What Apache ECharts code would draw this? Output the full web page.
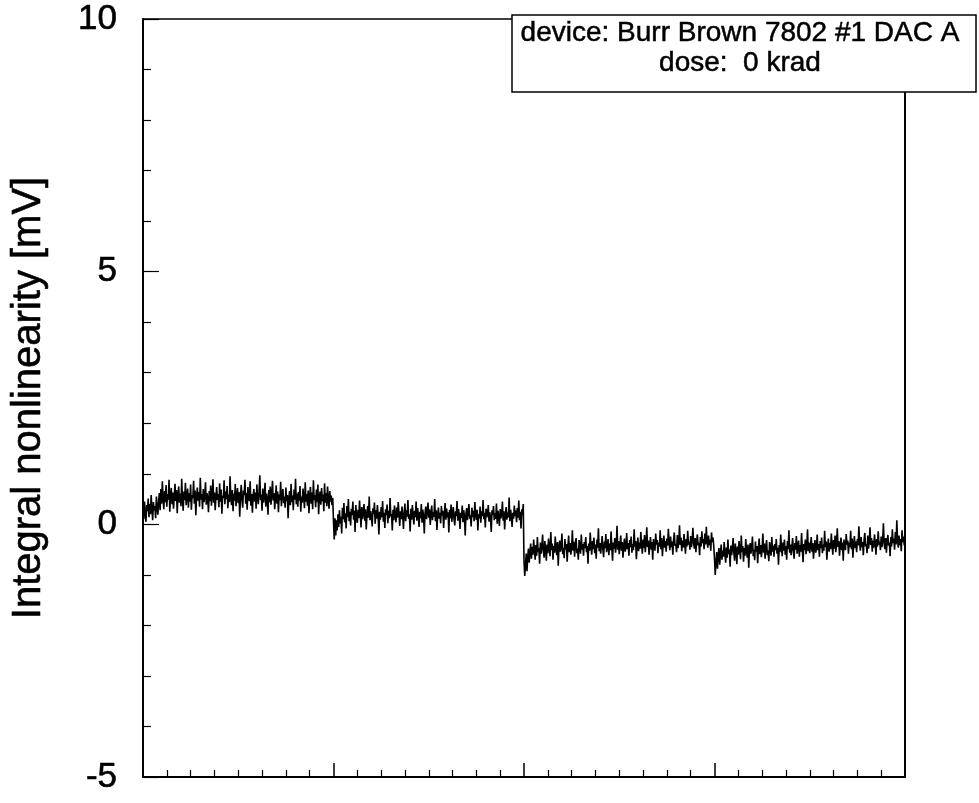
<!DOCTYPE html>
<html>
<head>
<meta charset="utf-8">
<script src="https://cdn.jsdelivr.net/npm/echarts@6/dist/echarts.min.js"></script>
<style>html,body{margin:0;padding:0;background:#fff;}#c{width:979px;height:803px;}</style>
</head>
<body>
<div id="c"></div>
<script>
// DAC input code step between plotted samples
const codeStep = 4;
const xMin = 0, xMax = 4096, xMajor = 1024;
const yMin = -5, yMax = 10, yMajor = 5;
const yTitle = 'Integral nonlinearity [mV]';
const boxLine1 = 'device: Burr Brown 7802 #1 DAC A';
const boxLine2 = 'dose:  0 krad';

// Integral nonlinearity [mV], codes 0 .. 1023
const seg1 = [
0.32,0.10,0.45,0.22,0.05,0.38,0.26,0.51,0.14,0.40,0.20,0.58,0.30,0.08,0.44,0.27,
0.36,0.12,0.55,0.33,0.19,0.47,0.62,0.28,0.70,0.41,0.85,0.52,0.30,0.66,0.44,0.78,
0.35,0.60,0.49,0.88,0.25,0.57,0.72,0.40,0.63,0.31,0.54,0.80,0.46,0.68,0.22,0.59,
0.75,0.43,0.61,0.36,0.90,0.50,0.27,0.65,0.48,0.82,0.38,0.56,0.71,0.33,0.62,0.45,
0.79,0.29,0.58,0.52,0.86,0.41,0.67,0.18,0.55,0.73,0.47,0.64,0.35,0.92,0.49,0.60,
0.30,0.70,0.44,0.57,0.83,0.39,0.62,0.51,0.24,0.66,0.46,0.77,0.37,0.58,0.89,0.43,
0.63,0.28,0.54,0.74,0.48,0.60,0.34,0.81,0.45,0.69,0.21,0.57,0.52,0.87,0.40,0.65,
0.50,0.76,0.32,0.59,0.44,0.95,0.53,0.38,0.68,0.26,0.61,0.47,0.80,0.36,0.56,0.72,
0.42,0.64,0.15,0.55,0.78,0.49,0.33,0.67,0.58,0.88,0.41,0.62,0.29,0.74,0.51,0.46,
0.85,0.37,0.60,0.23,0.57,0.70,0.45,0.63,0.31,0.79,0.52,0.40,0.66,0.97,0.48,0.59,
0.27,0.71,0.43,0.56,0.82,0.35,0.61,0.50,0.19,0.68,0.44,0.75,0.39,0.58,0.86,0.47,
0.62,0.30,0.53,0.77,0.41,0.65,0.24,0.59,0.48,0.84,0.36,0.60,0.70,0.42,0.55,0.33,
0.73,0.46,0.58,0.12,0.51,0.66,0.38,0.80,0.44,0.57,0.28,0.69,0.49,0.90,0.40,0.61,
0.35,0.64,0.47,0.76,0.25,0.55,0.43,0.71,0.52,0.32,0.83,0.45,0.60,0.37,0.67,0.22,
0.56,0.74,0.41,0.63,0.30,0.87,0.48,0.58,0.34,0.69,0.44,0.79,0.20,0.54,0.65,0.39,
0.72,0.46,0.59,0.26,0.81,0.43,0.62,0.36,0.75,0.50,0.31,0.66,0.45,0.57,0.38,0.52];
// codes 1024 .. 2047
const seg2 = [
0.05,-0.30,0.12,-0.22,0.08,-0.12,0.20,-0.05,0.28,0.02,0.15,-0.18,0.33,0.10,0.42,0.04,
0.22,-0.08,0.36,0.14,0.50,0.06,0.25,-0.02,0.31,0.18,0.45,0.09,0.27,-0.15,0.38,0.16,
0.03,0.29,0.12,0.47,0.21,-0.06,0.34,0.10,0.24,0.40,0.07,0.30,-0.10,0.19,0.36,0.13,
0.55,0.08,0.26,0.15,-0.04,0.32,0.20,0.43,0.01,0.28,0.11,0.38,0.17,-0.20,0.25,0.09,
0.34,0.14,0.46,0.05,0.23,-0.07,0.30,0.18,0.39,0.02,0.27,0.12,0.52,0.16,0.21,-0.12,
0.29,0.08,0.37,0.19,0.04,0.33,0.13,0.44,0.22,-0.03,0.26,0.10,0.35,0.17,-0.09,0.24,
0.41,0.06,0.28,0.15,0.48,0.11,0.20,-0.14,0.31,0.09,0.38,0.18,0.00,0.27,0.14,0.45,
0.07,0.32,0.19,-0.05,0.25,0.12,0.40,0.03,0.29,0.16,-0.18,0.22,0.35,0.10,0.26,0.43,
0.13,0.30,-0.01,0.21,0.37,0.08,0.24,0.15,0.50,0.06,0.28,-0.11,0.19,0.33,0.11,0.23,
0.02,0.36,0.17,0.27,-0.07,0.20,0.42,0.09,0.31,0.14,0.24,-0.16,0.29,0.12,0.39,0.05,
0.22,0.34,0.10,-0.02,0.26,0.16,0.46,0.07,0.30,0.19,-0.09,0.23,0.13,0.37,0.04,0.28,
0.15,-0.22,0.21,0.32,0.08,0.25,0.40,0.11,0.18,-0.04,0.33,0.14,0.27,0.06,0.44,0.17,
0.09,0.29,-0.12,0.20,0.12,0.35,0.03,0.26,0.16,0.48,0.10,0.23,-0.06,0.31,0.14,0.21,
0.38,0.05,0.24,0.13,-0.15,0.28,0.18,0.36,0.08,0.22,0.11,0.41,0.01,0.27,0.15,-0.03,
0.30,0.12,0.20,0.45,0.07,0.26,-0.10,0.19,0.34,0.09,0.24,0.14,0.53,0.06,0.29,0.17,
-0.05,0.23,0.11,0.37,0.16,0.28,0.04,0.32,0.13,0.47,0.08,0.25,-0.08,0.30,0.18,0.40];
// codes 2048 .. 3071
const seg3 = [
-0.72,-1.02,-0.80,-0.58,-0.93,-0.65,-0.48,-0.76,-0.55,-0.38,-0.68,-0.45,-0.60,-0.30,-0.52,-0.70,
-0.41,-0.62,-0.25,-0.55,-0.47,-0.78,-0.36,-0.58,-0.44,-0.20,-0.53,-0.66,-0.33,-0.49,-0.72,-0.40,
-0.57,-0.28,-0.46,-0.63,-0.15,-0.51,-0.38,-0.70,-0.43,-0.56,-0.24,-0.48,-0.61,-0.35,-0.82,-0.45,
-0.32,-0.54,-0.42,-0.18,-0.59,-0.47,-0.67,-0.29,-0.50,-0.39,-0.74,-0.44,-0.22,-0.55,-0.37,-0.60,
-0.46,-0.12,-0.52,-0.34,-0.64,-0.41,-0.27,-0.57,-0.48,-0.70,-0.31,-0.45,-0.58,-0.20,-0.50,-0.39,
-0.62,-0.35,-0.47,-0.25,-0.55,-0.43,-0.78,-0.38,-0.52,-0.16,-0.44,-0.60,-0.33,-0.49,-0.26,-0.57,
-0.40,-0.68,-0.30,-0.46,-0.08,-0.53,-0.37,-0.58,-0.42,-0.23,-0.50,-0.65,-0.34,-0.47,-0.19,-0.55,
-0.44,-0.29,-0.61,-0.38,-0.51,-0.14,-0.45,-0.72,-0.36,-0.48,-0.27,-0.56,-0.41,-0.03,-0.50,-0.33,
-0.59,-0.40,-0.22,-0.52,-0.35,-0.66,-0.43,-0.28,-0.54,-0.46,-0.17,-0.49,-0.37,-0.62,-0.31,-0.45,
-0.24,-0.56,-0.39,-0.51,-0.10,-0.44,-0.33,-0.69,-0.42,-0.26,-0.53,-0.36,-0.48,-0.15,-0.40,-0.58,
-0.30,-0.47,-0.21,-0.55,-0.38,-0.06,-0.45,-0.32,-0.60,-0.41,-0.25,-0.50,-0.35,-0.70,-0.29,-0.43,
-0.52,-0.18,-0.40,-0.31,-0.57,-0.36,-0.44,-0.12,-0.49,-0.27,-0.63,-0.38,-0.22,-0.46,-0.33,-0.54,
-0.28,-0.42,-0.09,-0.37,-0.51,-0.24,-0.45,-0.34,-0.60,-0.30,-0.16,-0.43,-0.39,-0.55,-0.21,-0.47,
-0.35,-0.02,-0.41,-0.26,-0.53,-0.32,-0.46,-0.19,-0.38,-0.58,-0.29,-0.44,-0.13,-0.40,-0.34,-0.50,
-0.23,-0.45,-0.31,-0.07,-0.39,-0.48,-0.27,-0.55,-0.33,-0.20,-0.42,-0.36,-0.61,-0.25,-0.44,-0.14,
-0.37,-0.29,-0.49,-0.18,-0.40,-0.05,-0.34,-0.46,-0.22,-0.41,-0.30,-0.52,-0.16,-0.35,-0.26,-0.43];
// codes 3072 .. 4095
const seg4 = [
-0.68,-1.00,-0.75,-0.55,-0.88,-0.62,-0.47,-0.80,-0.58,-0.40,-0.70,-0.52,-0.64,-0.35,-0.57,-0.76,
-0.46,-0.66,-0.30,-0.59,-0.50,-0.84,-0.42,-0.61,-0.48,-0.27,-0.56,-0.72,-0.38,-0.53,-0.79,-0.44,
-0.60,-0.33,-0.51,-0.69,-0.22,-0.55,-0.43,-0.74,-0.47,-0.62,-0.29,-0.52,-0.66,-0.40,-0.86,-0.49,
-0.37,-0.58,-0.45,-0.24,-0.63,-0.50,-0.71,-0.34,-0.54,-0.43,-0.77,-0.48,-0.28,-0.59,-0.41,-0.65,
-0.49,-0.18,-0.56,-0.38,-0.68,-0.45,-0.31,-0.61,-0.52,-0.73,-0.35,-0.48,-0.62,-0.25,-0.54,-0.42,
-0.64,-0.39,-0.51,-0.29,-0.58,-0.46,-0.80,-0.41,-0.55,-0.20,-0.47,-0.63,-0.36,-0.52,-0.30,-0.60,
-0.43,-0.70,-0.33,-0.49,-0.12,-0.56,-0.40,-0.61,-0.45,-0.27,-0.53,-0.68,-0.37,-0.50,-0.23,-0.58,
-0.46,-0.32,-0.64,-0.41,-0.54,-0.17,-0.48,-0.75,-0.39,-0.51,-0.30,-0.59,-0.44,-0.10,-0.53,-0.36,
-0.57,-0.42,-0.25,-0.54,-0.37,-0.68,-0.45,-0.31,-0.56,-0.48,-0.20,-0.51,-0.39,-0.64,-0.33,-0.47,
-0.26,-0.57,-0.40,-0.52,-0.13,-0.45,-0.34,-0.70,-0.43,-0.28,-0.54,-0.37,-0.49,-0.18,-0.41,-0.60,
-0.31,-0.48,-0.22,-0.55,-0.39,-0.08,-0.45,-0.33,-0.62,-0.41,-0.26,-0.51,-0.36,-0.72,-0.30,-0.44,
-0.51,-0.19,-0.40,-0.32,-0.58,-0.36,-0.45,-0.13,-0.49,-0.28,-0.66,-0.38,-0.23,-0.47,-0.34,-0.55,
-0.29,-0.42,-0.04,-0.37,-0.52,-0.25,-0.45,-0.35,-0.61,-0.31,-0.17,-0.44,-0.39,-0.57,-0.22,-0.48,
-0.35,-0.06,-0.41,-0.27,-0.54,-0.32,-0.46,-0.20,-0.38,-0.60,-0.29,-0.44,-0.14,-0.40,-0.34,-0.51,
-0.24,-0.45,-0.31,0.02,-0.39,-0.49,-0.27,-0.56,-0.33,-0.21,-0.42,-0.36,-0.63,-0.25,-0.44,-0.10,
-0.37,-0.28,-0.50,-0.15,-0.40,0.08,-0.33,-0.46,-0.22,-0.41,-0.29,-0.53,-0.12,-0.35,-0.24,-0.42];

const inl = seg1.concat(seg2, seg3, seg4);
const seriesData = inl.map((v, i) => [i * codeStep, v]);

const FONT = '"Liberation Sans", Arial, sans-serif';
const chart = echarts.init(document.getElementById('c'), null, {renderer: 'canvas'});
const axisBlack = {color: '#000', width: 2};
chart.setOption({
  animation: false,
  backgroundColor: '#fff',
  grid: {left: 143, right: 74, top: 19, bottom: 26, containLabel: false},
  xAxis: [{
    type: 'value', min: xMin, max: xMax, interval: xMajor, position: 'bottom',
    axisLine: {show: true, onZero: false, lineStyle: axisBlack},
    axisTick: {show: true, inside: true, length: 14, lineStyle: {color: '#000', width: 1.5}},
    minorTick: {show: true, splitNumber: 8, length: 7, lineStyle: {color: '#000', width: 1.2}},
    axisLabel: {show: false},
    splitLine: {show: false}, minorSplitLine: {show: false}
  }, {
    type: 'value', min: xMin, max: xMax, interval: xMajor, position: 'top',
    axisLine: {show: true, onZero: false, lineStyle: {color: '#000', width: 1.5}},
    axisTick: {show: false}, axisLabel: {show: false}, splitLine: {show: false}
  }],
  yAxis: [{
    type: 'value', min: yMin, max: yMax, interval: yMajor, position: 'left',
    name: yTitle, nameLocation: 'middle', nameGap: 94,
    nameTextStyle: {fontFamily: FONT, fontSize: 40, color: '#000', textBorderColor: '#000', textBorderWidth: 0.6},
    axisLine: {show: true, onZero: false, lineStyle: axisBlack},
    axisTick: {show: true, inside: true, length: 16, lineStyle: {color: '#000', width: 1.2}},
    minorTick: {show: true, splitNumber: 5, length: 8, lineStyle: {color: '#000', width: 1.2}},
    axisLabel: {show: true, fontFamily: FONT, fontSize: 35, color: '#000', margin: 26, textBorderColor: '#000', textBorderWidth: 0.6},
    splitLine: {show: false}, minorSplitLine: {show: false}
  }, {
    type: 'value', min: yMin, max: yMax, interval: yMajor, position: 'right',
    axisLine: {show: true, onZero: false, lineStyle: {color: '#000', width: 2}},
    axisTick: {show: false}, axisLabel: {show: false}, splitLine: {show: false}
  }],
  series: [{
    type: 'line', xAxisIndex: 0, yAxisIndex: 0,
    data: seriesData, showSymbol: false, symbol: 'none',
    lineStyle: {color: '#000', width: 1.6}, sampling: null, z: 3
  }],
  graphic: [{
    type: 'group', z: 100,
    children: [{
      type: 'rect', z: 100,
      shape: {x: 512, y: 15, width: 464, height: 77},
      style: {fill: '#fff', stroke: '#000', lineWidth: 1.5}
    }, {
      type: 'text', z: 101, x: 740, y: 33,
      style: {text: boxLine1, font: '28px ' + FONT, fill: '#000', stroke: '#000', lineWidth: 0.5, textAlign: 'center', textVerticalAlign: 'middle'}
    }, {
      type: 'text', z: 101, x: 740, y: 63,
      style: {text: boxLine2, font: '28px ' + FONT, fill: '#000', stroke: '#000', lineWidth: 0.5, textAlign: 'center', textVerticalAlign: 'middle'}
    }]
  }]
});
</script>
</body>
</html>
